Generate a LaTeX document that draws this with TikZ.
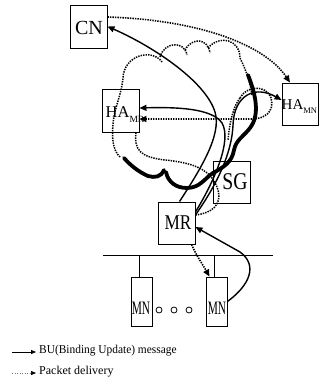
\documentclass[tikz,border=0pt]{standalone}
\usepackage{fontspec}
\setmainfont{Liberation Serif}
\usetikzlibrary{arrows.meta}
\begin{document}
\begin{tikzpicture}[x=1pt,y=-1pt,
  box/.style={draw,line width=0.9pt,inner sep=0pt},
  lbl/.style={inner sep=0pt},
  bu/.style={line width=1.4pt,-{Triangle[length=7pt,width=6pt]}},
  pkt/.style={line width=1.6pt,dash pattern=on 1.4pt off 1.1pt,-{Triangle[length=7pt,width=6pt]}},
  pktline/.style={line width=1.5pt,dash pattern=on 1.4pt off 1.1pt},
  shadow/.style={line width=3.8pt,line cap=round,line join=round},
]
\useasboundingbox (0,0) rectangle (320,387);

% boxes
\node[box,minimum width=37pt,minimum height=43pt] (CN) at (88.5,26.5) {};
\node[lbl,font=\fontsize{20}{20}\selectfont] (CNt) at (89,28) {CN};
\node[box,minimum width=37pt,minimum height=43pt] (HAMR) at (120.5,110.5) {};
\node[lbl,anchor=base west] (HAMRt) at (105.5,118) {\fontsize{16.5}{16}\selectfont HA\raisebox{-4.5pt}{\fontsize{9.5}{9.5}\selectfont MR}};
\node[box,minimum width=36pt,minimum height=42pt] (HAMN) at (300,104) {};
\node[lbl,anchor=base west] (HAMNt) at (281.5,110) {\fontsize{15}{15}\selectfont HA\raisebox{-4pt}{\fontsize{8.5}{8.5}\selectfont MN}};
\node[box,minimum width=37pt,minimum height=42pt] (SG) at (231.5,182) {};
\node[lbl] (SGt) at (235,182) {\fontsize{24}{24}\selectfont\scalebox{0.82}[1]{SG}};
\node[box,minimum width=37pt,minimum height=42pt] (MR) at (176.5,223) {};
\node[lbl] (MRt) at (178,223) {\fontsize{21}{21}\selectfont\scalebox{0.82}[1]{MR}};
\node[box,minimum width=21pt,minimum height=49pt] (MN1) at (141.5,301.5) {};
\node[lbl] (MN1t) at (141,308) {\fontsize{19}{19}\selectfont\scalebox{0.6}[1]{MN}};
\node[box,minimum width=21pt,minimum height=49pt] (MN2) at (216.5,301.5) {};
\node[lbl] (MN2t) at (217,308) {\fontsize{19}{19}\selectfont\scalebox{0.6}[1]{MN}};
\node[circle,draw,line width=0.8pt,minimum size=6pt,inner sep=0pt] (o1) at (159,310) {};
\node[circle,draw,line width=0.8pt,minimum size=6pt,inner sep=0pt] (o2) at (174,310) {};
\node[circle,draw,line width=0.8pt,minimum size=6pt,inner sep=0pt] (o3) at (189,310) {};

% bus
\coordinate (busL) at (103,255);
\coordinate (busR) at (273,255);
\draw[line width=0.9pt] (busL) -- (busR);
\draw[line width=0.9pt] ([xshift=-2.5pt]MN1.north) -- ([xshift=-2.5pt]MN1.north |- busL);
\draw[line width=0.9pt] ([xshift=-2.5pt]MN2.north) -- ([xshift=-2.5pt]MN2.north |- busL);

% cloud outline
\draw[pktline] (120,157) .. controls (112,150) and (112,135) .. (113,125) .. controls (114,108) and (121,97) .. (123,78) .. controls (124,55) and (152,48) .. (162,62);
\draw[pktline] (160,57) .. controls (164,42) and (184,40) .. (187,55);
\draw[pktline] (185,50) .. controls (192,37) and (208,38) .. (210,53);
\draw[pktline] (208,48) .. controls (220,34) and (240,40) .. (240,58) .. controls (246,70) and (250,82) .. (252,95);
\draw[shadow] (248,75) .. controls (256,95) and (260,115) .. (250,128) .. controls (243,137) and (236,140) .. (234,150) .. controls (232,162) and (224,167) .. (213,173) .. controls (205,178) and (200,188) .. (187,188) .. controls (176,188) and (168,182) .. (166,172);
\draw[shadow] (164,170) .. controls (161,177) and (155,178) .. (148,176) .. controls (139,172) and (131,166) .. (124,158);

% packet delivery paths
\draw[pktline] ([xshift=15.5pt]HAMR.south) .. controls (134,150) and (140,157) .. (165,160) .. controls (195,163) and (212,170) .. (218,190) .. controls (222,205) and (212,213) .. ([yshift=8pt]MR.east);
\draw[pkt] ([yshift=9.5pt]CN.east) .. controls (200,20) and (265,45) .. ([xshift=-10pt]HAMN.north);
\draw[pkt] (240,98) .. controls (246,86) and (266,84) .. (271,98) .. controls (275,112) and (264,119) .. (252,119) -- ([yshift=-8.5pt]HAMR.east);
\draw[pktline] (240,98) .. controls (232,108) and (229,128) .. (228,140);
\draw[pkt] ([xshift=15pt]MR.south) .. controls (196,255) and (203,265) .. ([xshift=-7pt]MN2.north);

% binding updates
\draw[bu] ([xshift=3pt]MR.north) .. controls (200,170) and (222,135) .. (215,112) .. controls (205,80) and (150,45) .. (CN.east);
\draw[bu] ([yshift=11pt]MR.east) .. controls (215,180) and (232,140) .. (222,123) .. controls (212,108) and (175,107) .. ([yshift=2.5pt]HAMR.east);
\draw[bu] ([yshift=8pt]MR.east) .. controls (220,180) and (232,150) .. (233,125) .. controls (234,95) and (255,85) .. ([yshift=4pt]HAMN.west);
\draw[bu] (MN2.east) .. controls (250,285) and (258,265) .. (240,252) -- ([yshift=-4pt]MR.east);

% legend
\coordinate (l1a) at (12,352);
\coordinate (l1b) at (36,352);
\coordinate (l2a) at (12,373);
\coordinate (l2b) at (36,373);
\draw[line width=0.8pt,-{Triangle[length=5pt,width=4pt]}] (l1a) -- (l1b);
\draw[line width=0.7pt,black!55,dash pattern=on 1pt off 1.5pt,-{Triangle[length=5pt,width=4pt,black]}] (l2a) -- (l2b);
\node[lbl,anchor=west,font=\fontsize{12}{12}\selectfont] (leg1) at (39,351) {\scalebox{0.95}[1]{BU(Binding Update) message}};
\node[lbl,anchor=west,font=\fontsize{12}{12}\selectfont] (leg2) at (39,372) {Packet delivery};
\end{tikzpicture}
\end{document}
